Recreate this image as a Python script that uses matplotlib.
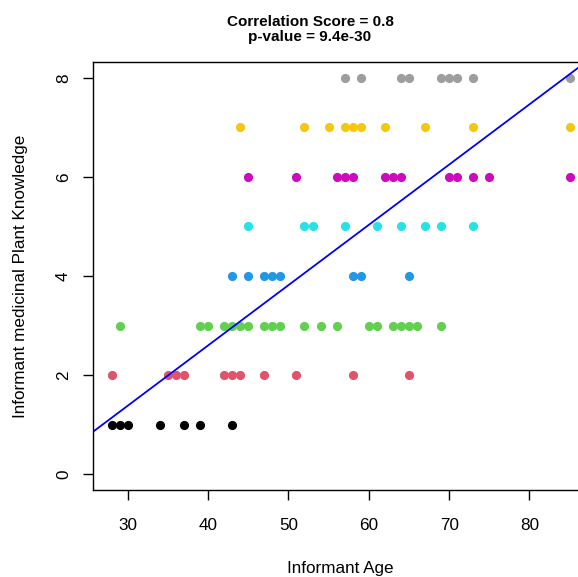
import matplotlib
matplotlib.use("Agg")
import matplotlib.pyplot as plt

plt.rcParams['font.family'] = ['Liberation Sans', 'DejaVu Sans']

# Ages of informants grouped by their medicinal plant knowledge score
ages_k1 = [28, 29, 30, 34, 37, 39, 43]
ages_k2 = [28, 35, 36, 37, 42, 43, 44, 47, 51, 58, 65]
ages_k3 = [29, 39, 40, 42, 43, 44, 45, 47, 48, 49, 52, 54, 56, 60, 61, 63, 64, 65, 66, 69]
ages_k4 = [43, 45, 47, 48, 49, 58, 59, 65]
ages_k5 = [45, 52, 53, 57, 61, 64, 67, 69, 73]
ages_k6 = [45, 51, 56, 57, 58, 62, 63, 64, 70, 71, 73, 75, 85]
ages_k7 = [44, 52, 55, 57, 58, 59, 62, 67, 73, 85]
ages_k8 = [57, 59, 64, 65, 69, 70, 71, 73, 85]
knowledge_levels = [1, 2, 3, 4, 5, 6, 7, 8]
level_colors = ["#000000", "#DF536B", "#61D04F", "#2297E6",
                "#28E2E5", "#CD0BBC", "#F5C710", "#9E9E9E"]

# Regression line
fit_intercept = -2.27
fit_slope = 0.1217

title_text = "Correlation Score = 0.8\np-value = 9.4e-30"
x_ticks = [30, 40, 50, 60, 70, 80]
y_ticks = [0, 2, 4, 6, 8]

fig = plt.figure(figsize=(5.78, 5.77), dpi=100)
ax = fig.add_axes([93.3 / 578, (577 - 490) / 577, (588 - 93.3) / 578, (490 - 62) / 577])

all_groups = [ages_k1, ages_k2, ages_k3, ages_k4, ages_k5, ages_k6, ages_k7, ages_k8]
for ages, lvl, col in zip(all_groups, knowledge_levels, level_colors):
    ax.plot(ages, [lvl] * len(ages), linestyle='none', marker='o',
            markersize=6.6, color=col, markeredgewidth=0, clip_on=False)

xmin, xmax = 25.72, 87.28
ax.set_xlim(xmin, xmax)
ax.set_ylim(-0.32, 8.32)
ax.plot([xmin, xmax], [fit_intercept + fit_slope * xmin, fit_intercept + fit_slope * xmax],
        color="#0000FF", linewidth=1.3)

ax.set_xticks(x_ticks)
ax.set_yticks(y_ticks)
ax.set_xticklabels([str(t) for t in x_ticks], fontsize=12.3)
ax.set_yticklabels([str(t) for t in y_ticks], fontsize=12.3, rotation=90, va='center')
ax.tick_params(direction='out', length=7, width=1.0)
ax.tick_params(axis='x', pad=13)
ax.tick_params(axis='y', pad=9)
for s in ax.spines.values():
    s.set_linewidth(1.0)

ax.set_xlabel("Informant Age", fontsize=12.3, labelpad=20)
ax.set_ylabel("Informant medicinal Plant Knowledge", fontsize=12.3, labelpad=20)

fig.text(310 / 578, 1 - 29.5 / 577, title_text, ha='center', va='center',
         fontsize=11, fontweight='bold', linespacing=1.05)

fig.savefig("out.png", dpi=100)
